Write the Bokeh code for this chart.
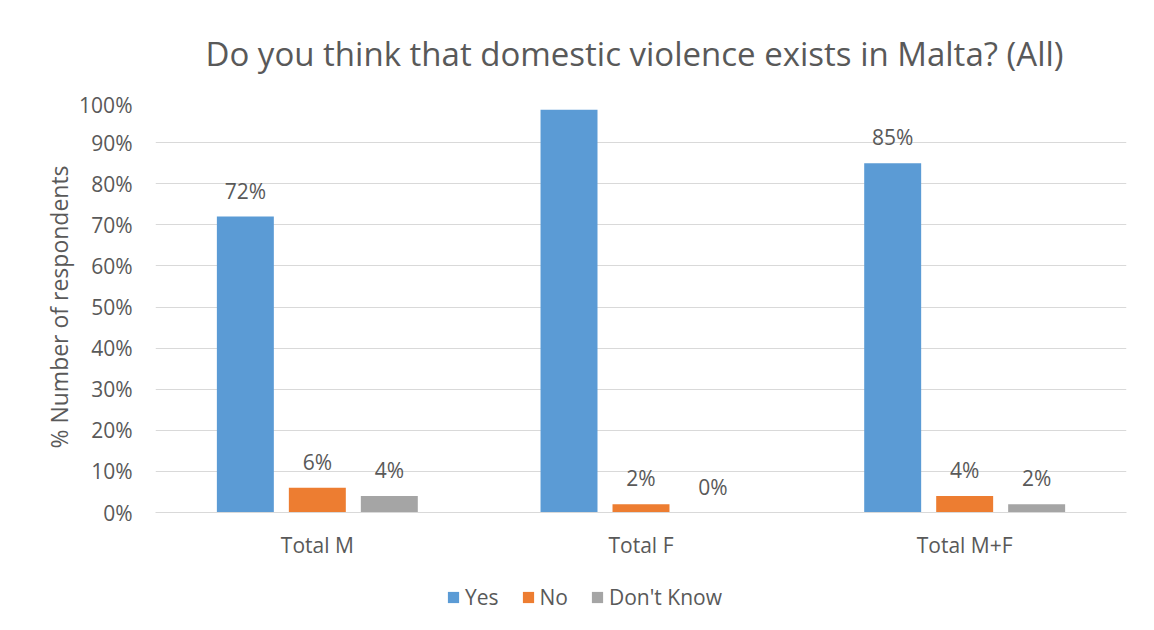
from bokeh.plotting import figure
from bokeh.layouts import column
from bokeh.models import (ColumnDataSource, FactorRange, NumeralTickFormatter, Legend, LegendItem,
                          Label, LabelSet, SingleIntervalTicker)
from bokeh.transform import dodge
from bokeh.embed import file_html
from bokeh.resources import INLINE
from bokeh.core.properties import value

categories = ["Total M", "Total F", "Total M+F"]
series = ["Yes", "No", "Don't Know"]
yes = [72, 98, 85]
no = [6, 2, 4]
dont_know = [4, 0, 2]
colors = ["#5b9bd5", "#ed7d31", "#a5a5a5"]
title_text = "Do you think that domestic violence exists in Malta? (All)"
y_label = "% Number of respondents"

FONT = "Open Sans"
TXT = "#595959"
GRID = "#d9d9d9"
W = 1154
offsets = [-0.2224, 0.0, 0.2224]
data_lists = [yes, no, dont_know]

# ---- title strip (frame is aligned with the main chart's frame by the column) ----
t = figure(width=W, height=90, x_range=(0, 1), y_range=(0, 1), output_backend="svg",
           toolbar_location=None, x_axis_location=None, y_axis_location=None, min_border=0)
t.grid.visible = False
t.outline_line_color = None
t.add_layout(Label(x=50, y=37, x_units="screen", y_units="screen", text=title_text,
                   text_align="left", text_baseline="middle", text_font=FONT,
                   text_font_size="33px", text_color=TXT))

# ---- main chart ----
p = figure(x_range=FactorRange(*categories), y_range=(0, 1.0), width=W, height=475,
           output_backend="svg", toolbar_location=None,
           min_border_left=155, min_border_right=28, min_border_top=11, min_border_bottom=53)
p.outline_line_color = None
p.xgrid.grid_line_color = None
p.ygrid.grid_line_color = GRID
p.ygrid.grid_line_width = 1

p.yaxis.ticker = SingleIntervalTicker(interval=0.1, num_minor_ticks=0)
p.yaxis.formatter = NumeralTickFormatter(format="0%")
p.yaxis.axis_line_color = None
p.yaxis.major_tick_line_color = None
p.yaxis.minor_tick_line_color = None
p.yaxis.major_tick_out = 0
p.yaxis.major_tick_in = 0
p.yaxis.major_label_standoff = 23
p.yaxis.major_label_text_font = FONT
p.yaxis.major_label_text_font_size = "21px"
p.yaxis.major_label_text_color = TXT
p.yaxis.axis_label = y_label
p.yaxis.axis_label_text_font = FONT
p.yaxis.axis_label_text_font_style = "normal"
p.yaxis.axis_label_text_font_size = "23px"
p.yaxis.axis_label_text_color = TXT
p.yaxis.axis_label_standoff = 1

p.xaxis.axis_line_color = GRID
p.xaxis.major_tick_line_color = None
p.xaxis.minor_tick_line_color = None
p.xaxis.major_tick_out = 0
p.xaxis.major_tick_in = 0
p.xaxis.major_label_standoff = 18
p.xaxis.major_label_text_font = FONT
p.xaxis.major_label_text_font_size = "21px"
p.xaxis.major_label_text_color = TXT

for name, vals, col, off in zip(series, data_lists, colors, offsets):
    src = ColumnDataSource(dict(cat=categories, val=[v / 100 for v in vals],
                                lab=[f"{v}%" for v in vals]))
    p.vbar(x=dodge("cat", off, range=p.x_range), top="val", width=0.176, source=src,
           fill_color=col, line_color=None)
    p.add_layout(LabelSet(x=dodge("cat", off, range=p.x_range), y="val", text="lab", source=src,
                          text_align="center", text_baseline="alphabetic", y_offset=18,
                          text_font=value(FONT), text_font_size="21px", text_color=TXT))

# ---- legend strip (its bars lie below the visible range; only the legend shows) ----
lg = figure(width=W, height=65, x_range=FactorRange(*categories), y_range=(1.5, 2.0),
            output_backend="svg", toolbar_location=None,
            x_axis_location=None, y_axis_location=None, min_border=0)
lg.grid.visible = False
lg.outline_line_color = None
items = []
for name, vals, col, off in zip(series, data_lists, colors, offsets):
    src = ColumnDataSource(dict(cat=categories, val=[v / 100 for v in vals]))
    r = lg.vbar(x=dodge("cat", off, range=lg.x_range), top="val", width=0.176, source=src,
                fill_color=col, line_color=None)
    items.append(LegendItem(label=name, renderers=[r]))
lg.add_layout(Legend(items=items, orientation="horizontal", location=(291, 19),
                     glyph_width=14, glyph_height=14, label_standoff=5, spacing=22,
                     padding=0, margin=0, border_line_color=None, background_fill_alpha=0,
                     label_text_font=FONT, label_text_font_size="21px", label_text_color=TXT))

layout = column(t, p, lg, spacing=0)
open("out.html", "w").write(file_html(layout, INLINE))
